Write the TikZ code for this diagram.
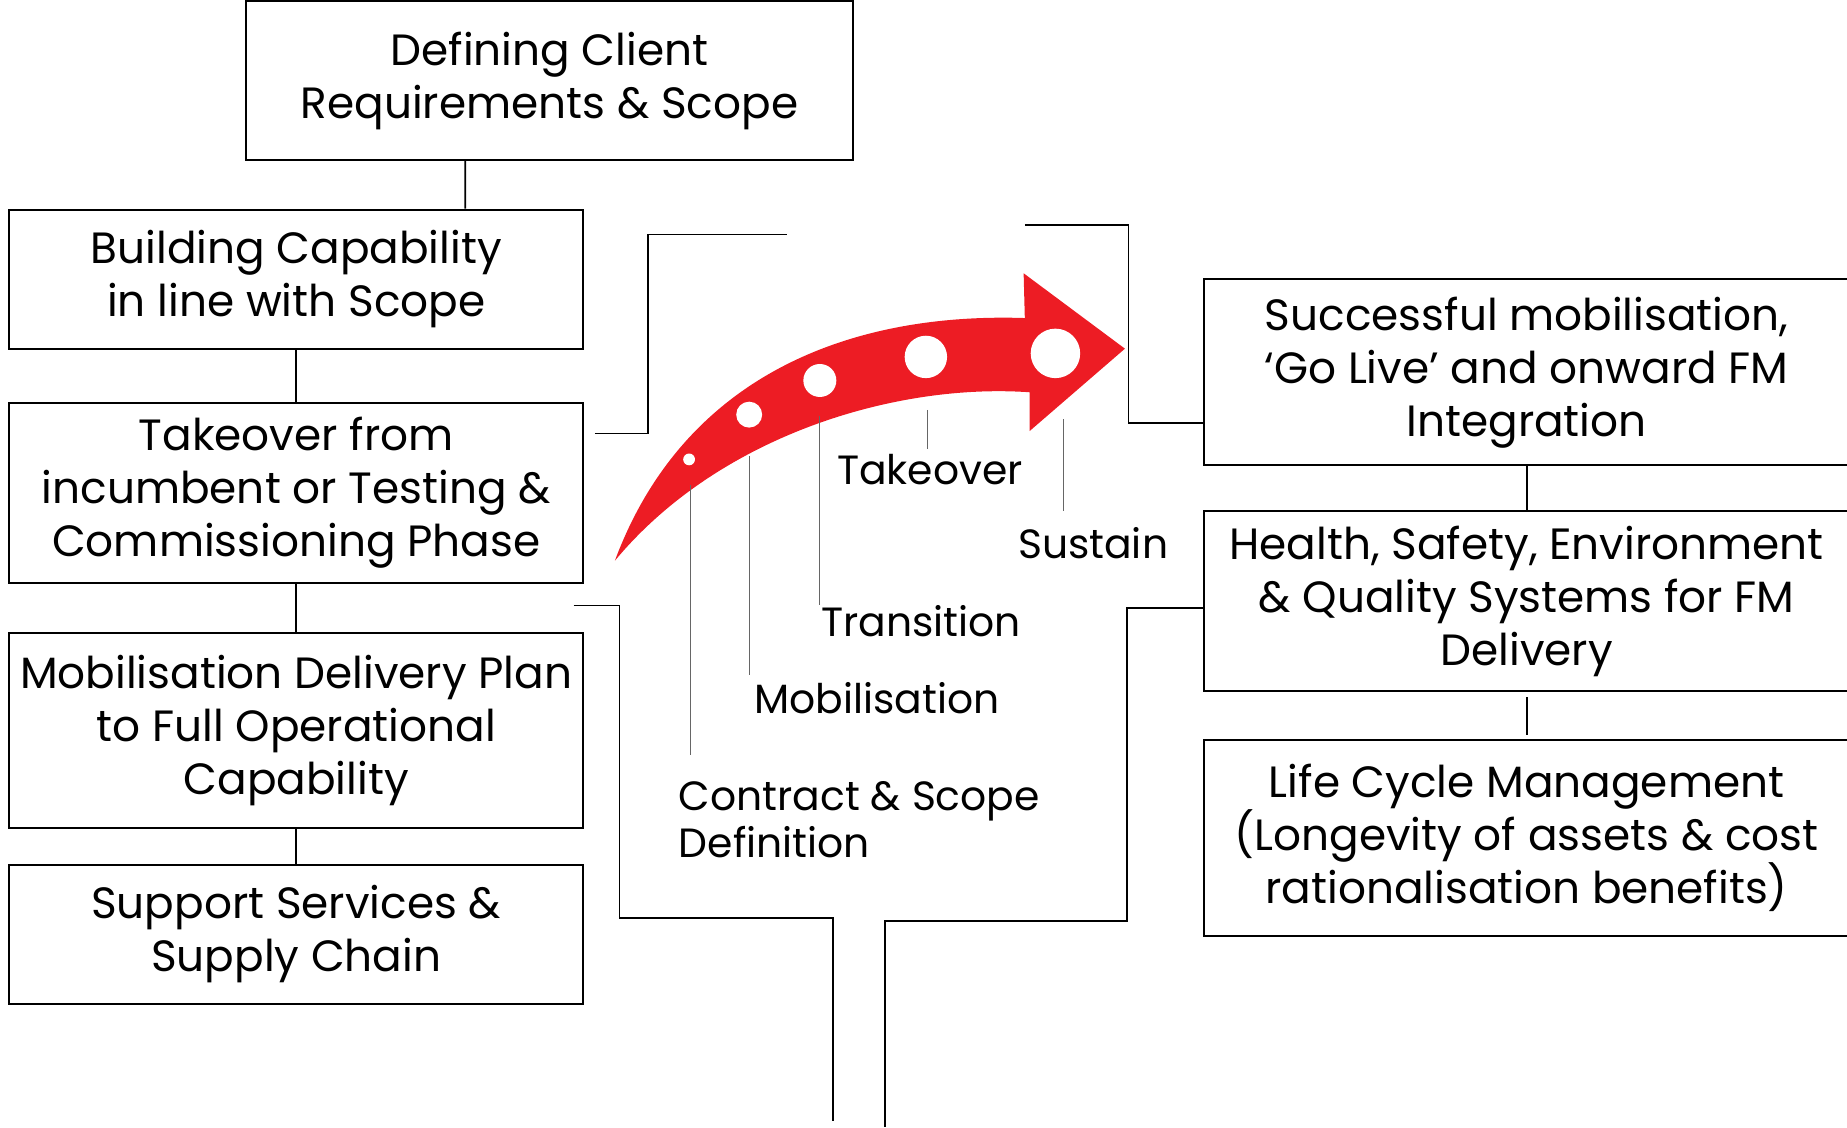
\documentclass[tikz,border=0pt]{standalone}
\usepackage{fontspec}
\setmainfont{Poppins}
\definecolor{arrowred}{HTML}{ED1C24}
\tikzset{
  stagebox/.style={draw, line width=1pt, align=center, inner sep=0pt, font=\fontsize{22.3}{27}\selectfont},
  link/.style={line width=0.9pt},
  tick/.style={black!60, line width=0.5pt},
  phase/.style={font=\fontsize{20.8}{24}\selectfont, inner sep=0pt}
}
\begin{document}
\begin{tikzpicture}[x=0.6pt, y=-0.6pt]
\useasboundingbox (0,0) rectangle (1568,957.6);
% left column
\node[stagebox, minimum width=309pt, minimum height=81pt] (define) at (466.5,68.5) {Defining Client\\Requirements \& Scope};
\node[stagebox, minimum width=292.2pt, minimum height=70.8pt] (build) at (251.5,237) {Building Capability\\in line with Scope};
\node[stagebox, minimum width=292.2pt, minimum height=91.8pt] (takeover) at (251.5,418.5) {Takeover from\\incumbent or Testing \&\\Commissioning Phase};
\node[stagebox, minimum width=292.2pt, minimum height=99.6pt] (plan) at (251.5,620) {Mobilisation Delivery Plan\\to Full Operational\\Capability};
\node[stagebox, minimum width=292.2pt, minimum height=70.8pt] (support) at (251.5,793) {Support Services \&\\Supply Chain};
\draw[link] ([xshift=-42.9pt]define.south) -- ([xshift=86.1pt]build.north);
\draw[link] (build.south) -- (takeover.north);
\draw[link] (takeover.south) -- (plan.north);
\draw[link] (plan.south) -- (support.north);
% right column
\node[stagebox, minimum width=328.8pt, minimum height=94.8pt] (golive) at (1296,316) {Successful mobilisation,\\‘Go Live’ and onward FM\\Integration};
\node[stagebox, minimum width=328.8pt, minimum height=91.8pt] (hseq) at (1296,510.5) {Health, Safety, Environment\\\& Quality Systems for FM\\Delivery};
\node[stagebox, minimum width=328.8pt, minimum height=100.2pt] (lifecycle) at (1296,711.5) {Life Cycle Management\\(Longevity of assets \& cost\\rationalisation benefits)};
\draw[link] (golive.south) -- (hseq.north);
\draw[link] ([yshift=-2.4pt]hseq.south) -- ([yshift=1.8pt]lifecycle.north);
% brackets
\coordinate (tl0) at (505,368);
\coordinate (tl1) at (668,199);
\coordinate (tr0) at (870,191);
\coordinate (bl0) at (487,514);
\coordinate (bl1) at (707,952);
\coordinate (br1) at (751,957);
\draw[link] (tl0) -- (550,368) -- (550,199) -- (tl1);
\draw[link] (tr0) -- (958,191) -- (958,359) -- (golive.west |- 0,359);
\draw[link] (bl0) -- (526,514) -- (526,779) -- (707,779) -- (bl1);
\draw[link] (hseq.west |- 0,516) -- (957,516) -- (957,782) -- (751,782) -- (br1);
% arrow
\fill[arrowred] (522,476) .. controls (580,320) and (720,265) .. (870,270)
  -- (869,232) -- (955,296) -- (874,366) -- (874,333)
  .. controls (760,325) and (610,370) .. (522,476) -- cycle;
\fill[white] (585,390) circle (5);
\fill[white] (636,352) circle (11);
\fill[white] (696,323) circle (14);
\fill[white] (786,303) circle (18);
\fill[white] (896,300) circle (21);
% phase labels
\node[phase, anchor=west, align=left] (contract) at (576,696) {Contract \& Scope\\Definition};
\node[phase] (mob) at (744.5,593) {Mobilisation};
\node[phase] (trans) at (782,527) {Transition};
\node[phase] (take) at (789.5,399) {Takeover};
\node[phase] (sustain) at (928,461) {Sustain};
\draw[tick] (586,412) -- (586,641);
\draw[tick] (636,387) -- (636,573);
\draw[tick] (696,353) -- (696,514);
\draw[tick] (787,348) -- (787,381);
\draw[tick] (903,356) -- (903,434);
\end{tikzpicture}
\end{document}
